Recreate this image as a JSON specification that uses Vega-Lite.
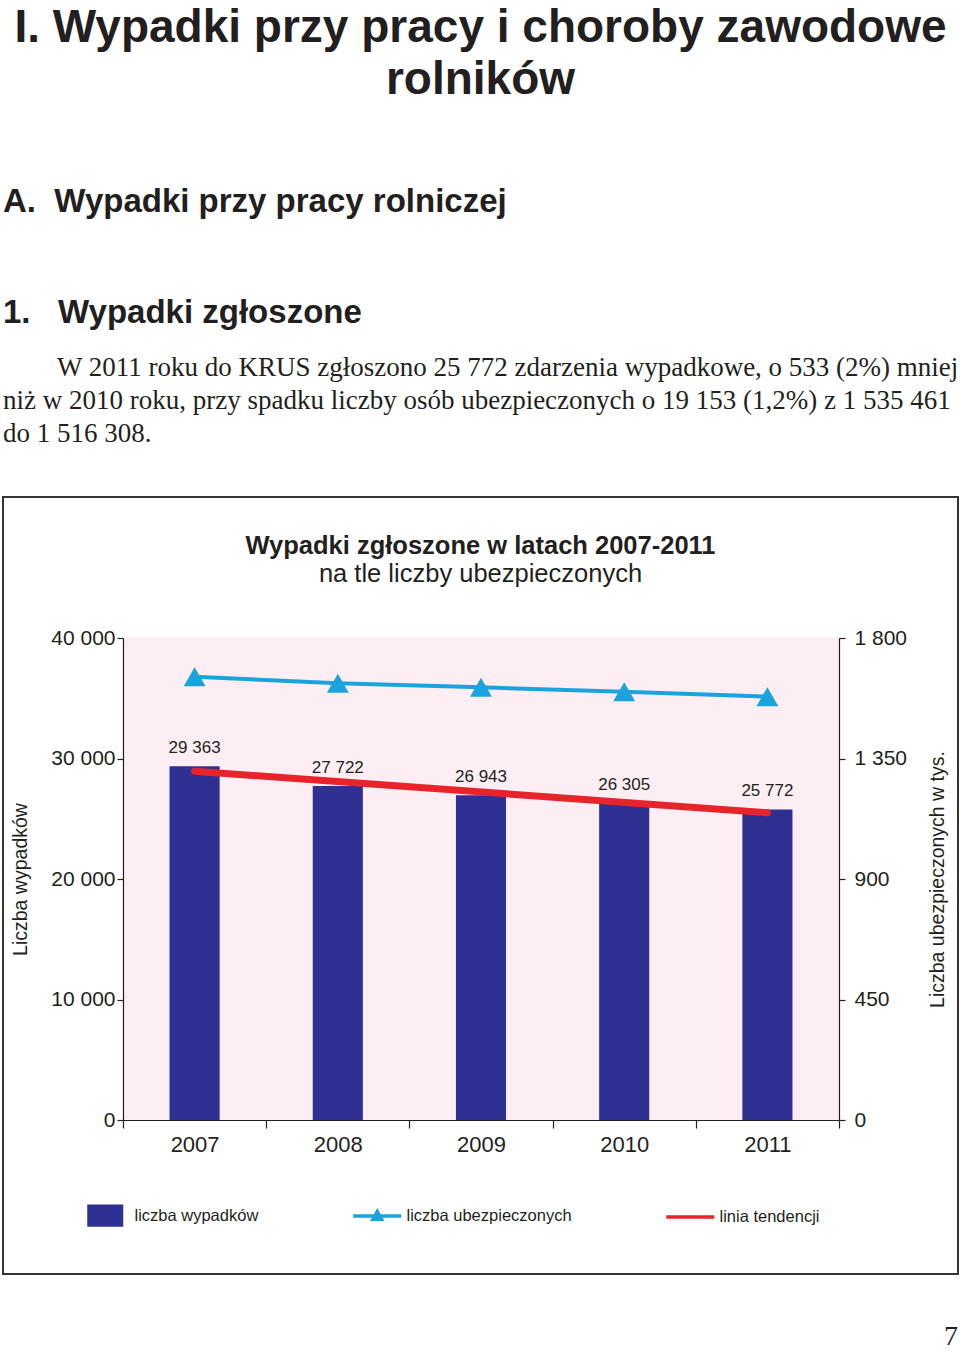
{
  "$schema": "https://vega.github.io/schema/vega-lite/v6.json",
  "padding": {"left": 2, "top": 5, "right": 0, "bottom": 0},
  "background": "white",
  "title": {
    "text": ["I. Wypadki przy pracy i choroby zawodowe", "rolników"],
    "anchor": "middle",
    "frame": "group",
    "font": "Liberation Sans",
    "fontWeight": "bold",
    "fontSize": 46,
    "lineHeight": 52,
    "color": "#231f20",
    "offset": 82
  },
  "datasets": {
    "roczne": [
      {"rok": "2007", "wypadki": 29363, "ubezpieczeni": 1655},
      {"rok": "2008", "wypadki": 27722, "ubezpieczeni": 1631},
      {"rok": "2009", "wypadki": 26943, "ubezpieczeni": 1616},
      {"rok": "2010", "wypadki": 26305, "ubezpieczeni": 1599},
      {"rok": "2011", "wypadki": 25772, "ubezpieczeni": 1581}
    ],
    "trend": [
      {"rok": "2007", "trend": 28941},
      {"rok": "2011", "trend": 25501}
    ]
  },
  "spacing": 48,
  "vconcat": [
    {
      "width": 955,
      "height": 30,
      "view": {"stroke": null},
      "data": {"values": []},
      "mark": "text",
      "title": {
        "text": "A.\u00a0\u00a0Wypadki przy pracy rolniczej",
        "anchor": "start",
        "frame": "group",
        "font": "Liberation Sans",
        "fontWeight": "bold",
        "fontSize": 33,
        "color": "#231f20",
        "offset": 0
      }
    },
    {
      "width": 955,
      "height": 1,
      "view": {"stroke": null},
      "data": {"values": []},
      "mark": "text",
      "title": {
        "text": "1.\u00a0\u00a0\u00a0Wypadki zgłoszone",
        "subtitle": [
          "\u200b\u00a0\u00a0\u00a0\u00a0\u00a0\u00a0\u00a0\u00a0W 2011 roku do KRUS zgłoszono 25 772 zdarzenia wypadkowe, o 533 (2%) mniej",
          "niż w 2010 roku, przy spadku liczby osób ubezpieczonych o 19 153 (1,2%) z 1 535 461",
          "do 1 516 308."
        ],
        "anchor": "start",
        "frame": "group",
        "font": "Liberation Sans",
        "fontWeight": "bold",
        "fontSize": 33,
        "color": "#231f20",
        "subtitleFont": "Liberation Serif",
        "subtitleFontSize": 27,
        "subtitleLineHeight": 33,
        "subtitleColor": "#231f20",
        "subtitlePadding": 25,
        "offset": 0
      }
    },
    {
      "width": 955,
      "height": 777,
      "title": {
        "text": "Wypadki zgłoszone w latach 2007-2011",
        "subtitle": "na tle liczby ubezpieczonych",
        "anchor": "middle",
        "frame": "group",
        "offset": -90,
        "font": "Liberation Sans",
        "fontWeight": "bold",
        "fontSize": 25.5,
        "color": "#231f20",
        "subtitleFont": "Liberation Sans",
        "subtitleFontSize": 25.5,
        "subtitleFontWeight": "normal",
        "subtitleColor": "#231f20",
        "subtitlePadding": 2
      },
      "data": {"name": "roczne"},
      "layer": [
        {
          "layer": [
            {
              "mark": {"type": "rect", "color": "#fdeef3", "stroke": "#fdeef3", "strokeWidth": 1},
              "encoding": {
                "x": {
                  "field": "rok",
                  "type": "ordinal",
                  "scale": {"type": "band", "range": [120, 836], "paddingInner": 0, "paddingOuter": 0},
                  "axis": {
                    "orient": "bottom",
                    "offset": -154,
                    "tickBand": "extent",
                    "labelAngle": 0,
                    "labelFontSize": 22,
                    "labelPadding": 6,
                    "tickSize": 8,
                    "title": null,
                    "zindex": 1
                  }
                },
                "y": {
                  "datum": 40000,
                  "type": "quantitative",
                  "scale": {"domain": [0, 40000], "range": [623, 141], "nice": false},
                  "title": "Liczba wypadków",
                  "axis": {
                    "orient": "left",
                    "offset": -120,
                    "values": [0, 10000, 20000, 30000, 40000],
                    "format": ",d",
                    "labelFontSize": 21,
                    "labelPadding": 2,
                    "tickSize": 6,
                    "titleFontSize": 19.5,
                    "titlePadding": 20,
                    "zindex": 1
                  }
                },
                "y2": {"datum": 0}
              }
            },
            {
              "mark": {"type": "bar", "width": {"band": 0.35}},
              "encoding": {
                "x": {"field": "rok", "type": "ordinal"},
                "y": {"field": "wypadki", "type": "quantitative", "title": "Liczba wypadków"},
                "color": {
                  "datum": "liczba wypadków",
                  "type": "nominal",
                  "scale": {
                    "domain": ["liczba wypadków", "liczba ubezpieczonych", "linia tendencji"],
                    "range": ["#2e3192", "#1ba3de", "#e8242b"]
                  },
                  "legend": {
                    "title": null,
                    "orient": "none",
                    "legendX": 94,
                    "legendY": 988,
                    "direction": "horizontal",
                    "columns": 3,
                    "columnPadding": 87,
                    "symbolSize": 2304,
                    "symbolStrokeWidth": 3.5,
                    "labelFont": "Liberation Sans",
                    "labelFontSize": 16.5,
                    "labelColor": "#231f20",
                    "labelOffset": 21,
                    "labelLimit": 400,
                    "encode": {
                      "symbols": {
                        "update": {
                          "shape": {"signal": "datum.value == 'liczba wypadków' ? 'M-0.75,-0.46H0.75V0.46H-0.75Z' : (datum.value == 'liczba ubezpieczonych' ? 'M-1,0H1M-0.18,0.14L0,-0.18L0.18,0.14Z' : 'M-1,0H1')"},
                          "fill": {"signal": "datum.value == 'liczba wypadków' ? '#2e3192' : (datum.value == 'liczba ubezpieczonych' ? '#1ba3de' : 'transparent')"},
                          "stroke": {"signal": "datum.value == 'liczba wypadków' ? '#2e3192' : (datum.value == 'liczba ubezpieczonych' ? '#1ba3de' : '#e8242b')"},
                          "strokeWidth": {"signal": "datum.value == 'liczba wypadków' ? 0 : 3.5"},
                          "opacity": {"value": 1},
                          "fillOpacity": {"value": 1}
                        }
                      }
                    }
                  }
                }
              }
            },
            {
              "mark": {
                "type": "text",
                "baseline": "bottom",
                "dy": -9,
                "font": "Liberation Sans",
                "fontSize": 17,
                "color": "#231f20"
              },
              "encoding": {
                "x": {"field": "rok", "type": "ordinal"},
                "y": {"field": "wypadki", "type": "quantitative", "title": "Liczba wypadków"},
                "text": {"field": "wypadki", "type": "quantitative", "format": ",d"}
              }
            },
            {
              "data": {"name": "trend"},
              "mark": {"type": "line", "strokeWidth": 7, "strokeCap": "round"},
              "encoding": {
                "x": {"field": "rok", "type": "ordinal"},
                "y": {"field": "trend", "type": "quantitative", "title": "Liczba wypadków"},
                "color": {"datum": "linia tendencji", "type": "nominal"}
              }
            }
          ]
        },
        {
          "mark": {
            "type": "line",
            "strokeWidth": 4,
            "point": {"shape": "triangle-up", "size": 480, "filled": true}
          },
          "encoding": {
            "x": {"field": "rok", "type": "ordinal"},
            "y": {
              "field": "ubezpieczeni",
              "type": "quantitative",
              "title": "Liczba ubezpieczonych w tys.",
              "scale": {"domain": [0, 1800], "range": [623, 141], "nice": false},
              "axis": {
                "orient": "right",
                "offset": -119,
                "values": [0, 450, 900, 1350, 1800],
                "format": ",d",
                "labelFontSize": 21,
                "labelPadding": 9,
                "tickSize": 6,
                "titleFontSize": 19.5,
                "titleAngle": 270,
                "titlePadding": 41,
                "zindex": 1
              }
            },
            "color": {"datum": "liczba ubezpieczonych", "type": "nominal"}
          }
        }
      ],
      "resolve": {"scale": {"y": "independent"}}
    },
    {
      "width": 955,
      "height": 1,
      "view": {"stroke": null},
      "data": {"values": []},
      "mark": "text",
      "title": {
        "text": "7",
        "anchor": "end",
        "frame": "group",
        "font": "Liberation Serif",
        "fontSize": 28,
        "fontWeight": "normal",
        "color": "#231f20",
        "offset": 0,
        "dy": 5
      }
    }
  ],
  "config": {
    "view": {"stroke": "#333333", "strokeWidth": 2},
    "locale": {
      "number": {"decimal": ",", "thousands": " ", "grouping": [3], "currency": ["", " zł"]}
    },
    "axis": {
      "domainColor": "#231f20",
      "tickColor": "#231f20",
      "labelColor": "#231f20",
      "titleColor": "#231f20",
      "grid": false,
      "labelFont": "Liberation Sans",
      "titleFont": "Liberation Sans",
      "titleFontWeight": "normal",
      "domainWidth": 1.2,
      "tickWidth": 1.2
    }
  }
}
